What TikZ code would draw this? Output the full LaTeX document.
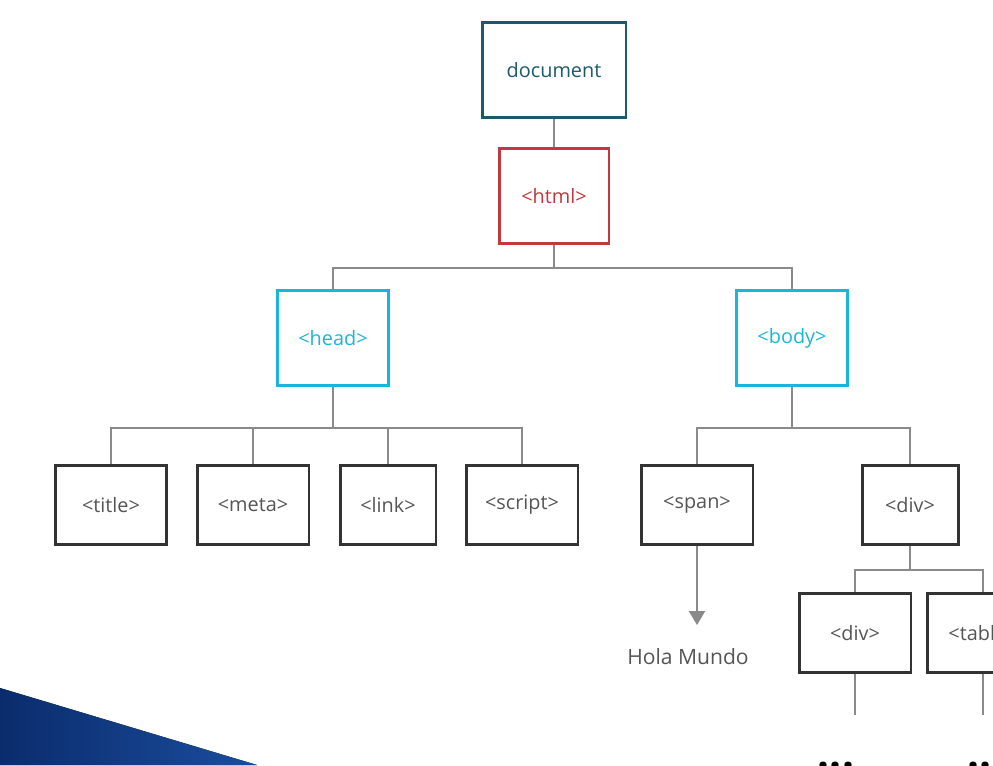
\documentclass[tikz,border=0pt]{standalone}
\usepackage{fontspec}
\setmainfont{Open Sans}
\usetikzlibrary{positioning, arrows.meta}
\definecolor{docteal}{HTML}{1B5A6C}
\definecolor{htmlred}{HTML}{C4373E}
\definecolor{tagcyan}{HTML}{1AB6D9}
\definecolor{boxgray}{HTML}{333333}
\definecolor{linegray}{HTML}{8A8A8A}
\definecolor{textgray}{HTML}{555555}
\definecolor{navy}{HTML}{0A2C6C}
\definecolor{navylight}{HTML}{1B4D9E}
\tikzset{
  tag/.style={draw=boxgray, line width=1.7pt, minimum width=2.24cm, minimum height=1.58cm,
    text=textgray, inner sep=0pt, font=\fontsize{11.3}{13}\selectfont},
  tall/.style={minimum height=1.9cm},
  wire/.style={draw=linegray, line width=1.4pt},
  dots/.style={font=\bfseries\fontsize{24}{24}\selectfont, anchor=base, inner sep=0pt}
}
\begin{document}
\begin{tikzpicture}[x=0.02cm, y=-0.02cm]
	\useasboundingbox (0,0) rectangle (993,765);
	\clip (0,0) rectangle (993,765);
	%% corner band
	\fill[left color=navy, right color=navylight] (0,688) -- (257,765) -- (0,765) -- cycle;

	\node[tag, tall, draw=docteal, text=docteal, minimum width=2.88cm] (doc) at (554,70) {document};
	\node[tag, tall, draw=htmlred, text=htmlred, minimum width=2.2cm] (html) at (554,196) {<html>};
	\node[tag, tall, draw=tagcyan, text=tagcyan, minimum width=2.22cm] (head) at (333,338) {<head>};
	\node[tag, tall, draw=tagcyan, text=tagcyan, minimum width=2.22cm] (body) at (792,338) {<body>};

	\node[tag] (title) at (111,505) {<title>};
	\node[tag] (meta) at (253,505) {<meta>};
	\node[tag, minimum width=1.92cm] (link) at (388,505) {<link>};
	\node[tag] (script) at (522,505) {<script>};
	\node[tag] (span) at (697,505) {<span>};
	\node[tag, minimum width=1.92cm] (div) at (910,505) {<div>};
	\node[tag] (subdiv) at (855,633) {<div>};
	\node[tag] (table) at (983,633) {<table>};

	\node[text=textgray, font=\fontsize{12}{14}\selectfont] (hola) at (688,657) {Hola Mundo};

	\coordinate (busA) at (554,268);
	\coordinate (busB) at (333,428);
	\coordinate (busC) at (792,428);
	\coordinate (busD) at (910,570);
	\coordinate (endA) at (855,715);
	\coordinate (endB) at (983,715);

	\draw[wire] (doc.south) -- (html.north);
	\draw[wire] (html.south) -- (busA) -| (head.north);
	\draw[wire] (busA) -| (body.north);
	\draw[wire] (head.south) -- (busB) -| (title.north);
	\draw[wire] (busB) -| (meta.north);
	\draw[wire] (busB) -| (link.north);
	\draw[wire] (busB) -| (script.north);
	\draw[wire] (body.south) -- (busC) -| (span.north);
	\draw[wire] (busC) -| (div.north);
	\draw[wire] (div.south) -- (busD) -| (subdiv.north);
	\draw[wire] (busD) -| (table.north);
	\draw[wire] (subdiv.south) -- (endA);
	\draw[wire] (table.south) -- (endB);
	\draw[wire, -{Triangle[width=9pt, length=8pt]}, shorten >=10pt] (span.south) -- (span.south |- hola.north);

	\node[dots] (moreA) at (836,768) {...};
	\node[dots] (moreB) at (986,768) {...};
\end{tikzpicture}
\end{document}
